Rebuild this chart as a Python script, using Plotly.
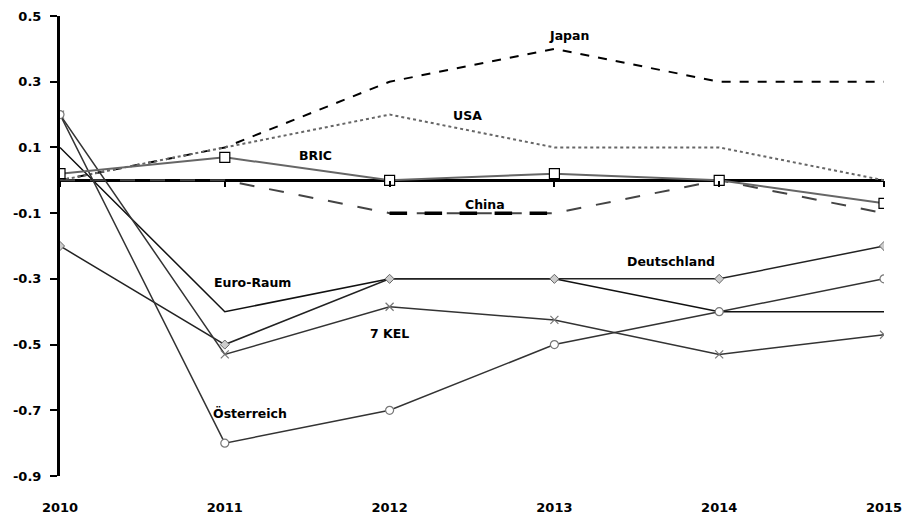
import plotly.graph_objects as go

years = [2010, 2011, 2012, 2013, 2014, 2015]
japan = [0.0, 0.1, 0.3, 0.4, 0.3, 0.3]
usa = [0.0, 0.1, 0.2, 0.1, 0.1, 0.0]
bric = [0.02, 0.07, 0.0, 0.02, 0.0, -0.07]
china = [0.0, 0.0, -0.1, -0.1, 0.0, -0.1]
euro_raum = [0.1, -0.4, -0.3, -0.3, -0.4, -0.4]
deutschland = [-0.2, -0.5, -0.3, -0.3, -0.3, -0.2]
kel7 = [0.2, -0.53, -0.385, -0.425, -0.53, -0.47]
oesterreich = [0.2, -0.8, -0.7, -0.5, -0.4, -0.3]
y_ticks = [0.5, 0.3, 0.1, -0.1, -0.3, -0.5, -0.7, -0.9]
y_range = [-0.9, 0.5]

labels = [
    ("Japan", 2013.09, 0.44),
    ("USA", 2012.47, 0.198),
    ("BRIC", 2011.55, 0.076),
    ("China", 2012.58, -0.073),
    ("Euro-Raum", 2011.17, -0.311),
    ("7 KEL", 2012.0, -0.466),
    ("Deutschland", 2013.71, -0.247),
    ("Österreich", 2011.15, -0.71),
]

FONT = "DejaVu Sans"

fig = go.Figure()
fig.add_trace(go.Scatter(x=years, y=japan, mode="lines",
                         line=dict(color="black", width=2, dash="dash")))
fig.add_trace(go.Scatter(x=years, y=usa, mode="lines",
                         line=dict(color="#666666", width=2, dash="dot")))
fig.add_trace(go.Scatter(x=years, y=china, mode="lines",
                         line=dict(color="#444444", width=2, dash="longdash")))
fig.add_trace(go.Scatter(x=years[2:4], y=china[2:4], mode="lines",
                         line=dict(color="black", width=3.5, dash="longdash")))
fig.add_trace(go.Scatter(x=years, y=euro_raum, mode="lines",
                         line=dict(color="#111111", width=1.5)))
fig.add_trace(go.Scatter(x=years, y=deutschland, mode="lines+markers",
                         line=dict(color="#222222", width=1.5),
                         marker=dict(symbol="diamond", size=7, color="#cccccc",
                                     line=dict(color="#666666", width=1))))
fig.add_trace(go.Scatter(x=years, y=kel7, mode="lines+markers",
                         line=dict(color="#333333", width=1.5),
                         marker=dict(symbol="x-thin", size=8,
                                     line=dict(color="#777777", width=1.2))))
fig.add_trace(go.Scatter(x=years, y=oesterreich, mode="lines+markers",
                         line=dict(color="#333333", width=1.5),
                         marker=dict(symbol="circle", size=8, color="white",
                                     line=dict(color="#777777", width=1.2))))
fig.add_trace(go.Scatter(x=years, y=bric, mode="lines+markers",
                         line=dict(color="#666666", width=2),
                         marker=dict(symbol="square", size=10, color="white",
                                     line=dict(color="black", width=1.2))))
# invisible trace to carry the zero-line tick axis
fig.add_trace(go.Scatter(x=years, y=[0] * len(years), mode="lines",
                         line=dict(width=0), xaxis="x2", hoverinfo="skip"))

for text, x, y in labels:
    fig.add_annotation(x=x, y=y, text=f"<b>{text}</b>", showarrow=False,
                       font=dict(family=FONT, size=12.5, color="black"))

zero_pos = (0 - y_range[0]) / (y_range[1] - y_range[0])

fig.update_layout(
    width=904, height=514,
    margin=dict(l=60, r=20, t=16, b=38),
    paper_bgcolor="white", plot_bgcolor="white",
    showlegend=False,
    font=dict(family=FONT, size=13, color="black"),
    xaxis2=dict(overlaying="x", anchor="free", position=zero_pos, side="bottom",
                range=[2010, 2015], tickvals=years, showticklabels=False,
                ticks="outside", ticklen=6, tickwidth=2, tickcolor="black",
                showgrid=False, showline=False, zeroline=False, automargin=False),
    xaxis=dict(range=[2010, 2015], tickvals=years,
               ticktext=[f"<b>{y}</b>" for y in years],
               showgrid=False, showline=False, zeroline=False, ticks="",
               ticklabelstandoff=22, automargin=False, ticklabeloverflow="allow"),
)
fig.update_yaxes(range=y_range, tickvals=y_ticks,
                 ticktext=[f"<b>{v:.1f}</b>" for v in y_ticks],
                 showgrid=False, showline=True, linecolor="black", linewidth=3,
                 ticks="outside", ticklen=7, tickwidth=2, tickcolor="black",
                 zeroline=True, zerolinecolor="black", zerolinewidth=3,
                 ticklabelstandoff=6, automargin=False)

fig.write_html("out.html", config={"displayModeBar": False},
               post_script="document.body.style.margin='0';document.body.style.overflow='hidden';")
